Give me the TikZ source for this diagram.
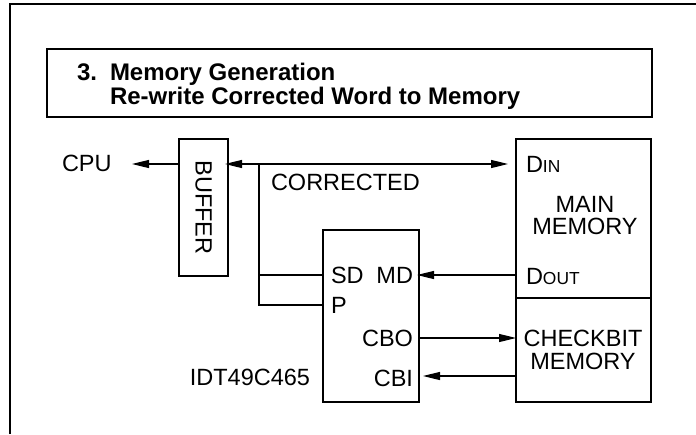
\documentclass[tikz,border=0pt]{standalone}
\usepackage{fontspec}
\setmainfont{Liberation Sans}
\usetikzlibrary{arrows.meta}
\begin{document}
\begin{tikzpicture}[x=1pt,y=-1pt,
  every node/.style={font=\fontsize{23.5}{23}\selectfont, inner sep=0pt, outer sep=0pt},
  box/.style={draw, line width=1.2pt, rectangle},
  wire/.style={line width=1.2pt},
  arr/.style={wire, -{Triangle[length=17pt,width=8pt]}},
  dblarr/.style={wire, {Triangle[length=17pt,width=8pt]}-{Triangle[length=17pt,width=8pt]}},
  ttl/.style={font=\fontsize{24}{25}\selectfont\bfseries, anchor=base west},
  lbl/.style={anchor=west},
  rlbl/.style={anchor=east},
  sc/.style={font=\fontsize{17.4}{18}\selectfont}]
\useasboundingbox (0,0) rectangle (696,434);
% frame
\draw[wire] (10,434) -- (10,4) -- (696,4);
% title
\node[box, minimum width=605, minimum height=68] (title) at (349.5,83) {};
\node[ttl] (t1) at (77,80) {3.};
\node[ttl] (t2) at (110,80) {Memory Generation};
\node[ttl] (t3) at (110,104) {Re-write Corrected Word to Memory};
% boxes
\node[box, minimum width=49, minimum height=137] (buffer) at (203.5,207.5) {};
\node[rotate=-90] (buftxt) at (buffer.center) {BUFFER};
\node[box, minimum width=96, minimum height=172] (edc) at (371,316) {};
\node[box, minimum width=135, minimum height=159] (mainmem) at (583.5,218.5) {};
\node[box, minimum width=135, minimum height=104] (chk) at (583.5,350) {};
% texts
\node[lbl] (cpu) at (62,163) {CPU};
\node[lbl] (corr) at (271,182) {CORRECTED};
\node[lbl] (din) at (526,164) {D{\fontsize{17.4}{18}\selectfont IN}};
\node[align=center, font=\fontsize{23.5}{22}\selectfont] (mmtxt) at (585,216) {MAIN\\MEMORY};
\node[lbl] (dout) at (526,276) {D{\fontsize{17.4}{18}\selectfont OUT}};
\node[align=center, font=\fontsize{23.5}{23}\selectfont] (chktxt) at (583,350) {CHECKBIT\\MEMORY};
\node[lbl] (sd) at (331,275) {SD};
\node[rlbl] (md) at (413,275) {MD};
\node[lbl] (p) at (331,305) {P};
\node[rlbl] (cbo) at (413,338) {CBO};
\node[rlbl] (cbi) at (413,378) {CBI};
\node[rlbl] (idt) at (310,377) {IDT49C465};
% coordinates
\coordinate (bus) at (0,164);
\coordinate (tap) at (259,164);
\coordinate (sdy) at (0,275);
\coordinate (py) at (0,305);
\coordinate (cboy) at (0,338);
\coordinate (cbiy) at (0,376);
\coordinate (cpuend) at (132,164);
% connectors
\draw[arr] (buffer.west |- bus) -- (cpuend);
\draw[dblarr, shorten <=-3pt, shorten >=8pt] (buffer.east |- bus) -- (mainmem.west |- bus);
\draw[wire] (tap) |- (edc.west |- sdy);
\draw[wire] (tap |- sdy) |- (edc.west |- py);
\draw[arr, shorten >=-2pt] (mainmem.west |- sdy) -- (edc.east |- sdy);
\draw[arr] (edc.east |- cboy) -- (chk.west |- cboy);
\draw[arr, shorten >=4pt] (chk.west |- cbiy) -- (edc.east |- cbiy);
\end{tikzpicture}
\end{document}
